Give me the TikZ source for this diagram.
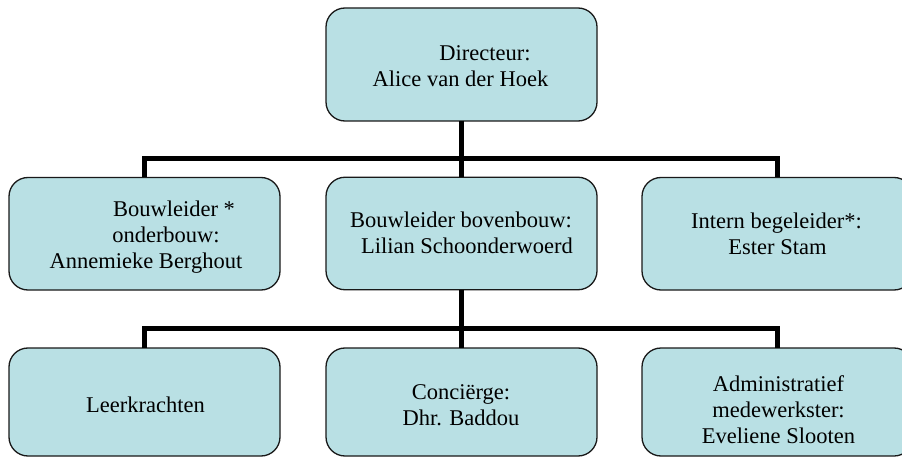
\documentclass[tikz,border=0pt]{standalone}
\usepackage{fontspec}
\setmainfont{Liberation Serif}
\definecolor{boxblue}{RGB}{185,224,228}
\newcommand{\tline}[2]{\makebox[0pt]{\hspace*{#1}#2}}
\begin{document}
\begin{tikzpicture}[x=1pt,y=-1pt,
  orgbox/.style={draw=black!90, line width=1.3pt, fill=boxblue, rounded corners=19pt,
    minimum width=271pt, minimum height=#1, inner sep=0pt, outer sep=0pt},
  orgbox/.default=112.5pt,
  orgtext/.style={anchor=base, inner sep=0pt, font=\fontsize{22.5}{26}\selectfont},
  link/.style={line width=5pt, black}]
\useasboundingbox (0,0) rectangle (902,457);
\clip (0,0) rectangle (902,457);
\fill[white] (0,0) rectangle (902,457);
% boxes
\node[orgbox=113pt] (dir) at (461.5,64.5) {};
\node[orgbox] (bl1) at (144.5,233.75) {};
\node[orgbox] (bl2) at (461.5,233.5) {};
\node[orgbox] (ib)  at (777.5,233.75) {};
\node[orgbox=108pt] (lk)  at (144.5,402) {};
\node[orgbox=108pt] (cg)  at (461.5,402) {};
\node[orgbox=108pt] (adm) at (777.5,402) {};
% connectors
\coordinate (bar1) at (461.5,159);
\coordinate (bar2) at (461.5,328);
\draw[link] (dir.south) -- (bl2.north);
\draw[link] (bl1.north) |- (bar1) -| (ib.north);
\draw[link] (bl2.south) -- (cg.north);
\draw[link] (lk.north) |- (bar2) -| (adm.north);
% texts
\node[orgtext] (tdir) at (461.5,61) {\begin{tabular}[t]{@{}c@{}}\tline{47pt}{Directeur:}\\\tline{-2pt}{Alice van der Hoek}\end{tabular}};
\node[orgtext] (tbl1) at (144.5,216) {\begin{tabular}[t]{@{}c@{}}\tline{59pt}{Bouwleider *}\\\tline{43pt}{onderbouw:}\\\tline{3pt}{Annemieke Berghout}\end{tabular}};
\node[orgtext] (tbl2) at (461.5,228) {\begin{tabular}[t]{@{}c@{}}\tline{-1pt}{Bouwleider bovenbouw:}\\\tline{11pt}{Lilian Schoonderwoerd}\end{tabular}};
\node[orgtext] (tib) at (777.5,229) {\begin{tabular}[t]{@{}c@{}}\tline{-2pt}{Intern begeleider*:}\\\tline{0pt}{Ester Stam}\end{tabular}};
\node[orgtext] (tlk) at (144.5,412) {\begin{tabular}[t]{@{}c@{}}\tline{2pt}{Leerkrachten}\end{tabular}};
\node[orgtext] (tcg) at (461.5,399) {\begin{tabular}[t]{@{}c@{}}\tline{-1pt}{Conciërge:}\\\tline{-1pt}{Dhr. Baddou}\end{tabular}};
\node[orgtext] (tadm) at (777.5,391) {\begin{tabular}[t]{@{}c@{}}\tline{2pt}{Administratief}\\\tline{2pt}{medewerkster:}\\\tline{2pt}{Eveliene Slooten}\end{tabular}};
\end{tikzpicture}
\end{document}
